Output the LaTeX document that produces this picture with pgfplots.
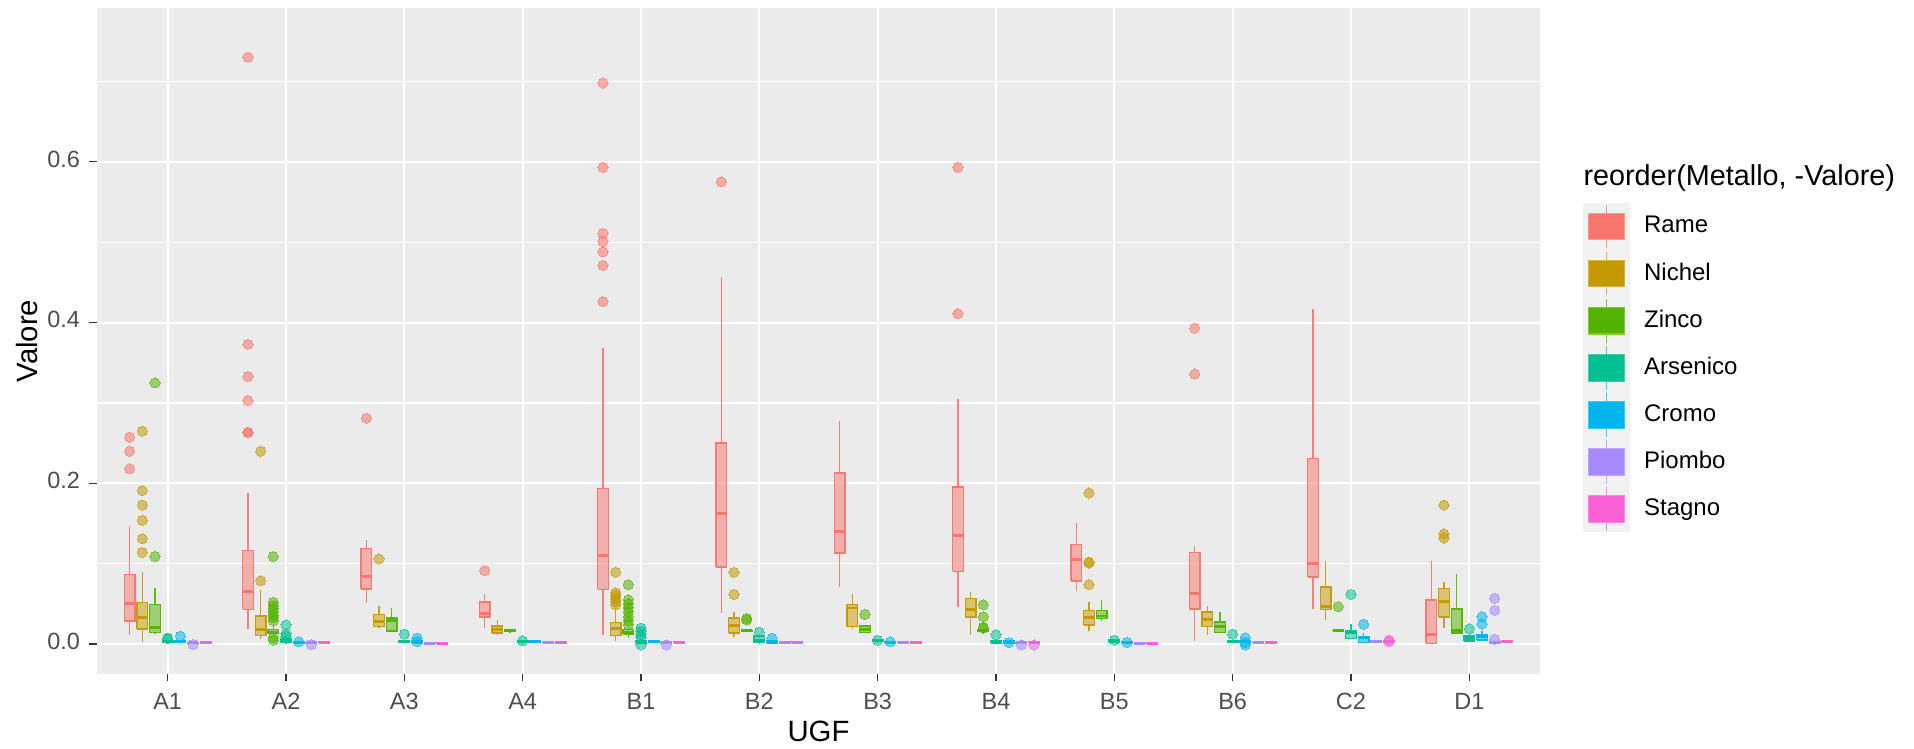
\documentclass[border=0pt]{standalone}
\usepackage{fontspec}
\setmainfont{Liberation Sans}
\usepackage{pgfplots}
\pgfplotsset{compat=1.18}

\definecolor{cRame}{HTML}{F8766D}
\definecolor{cNichel}{HTML}{C49A00}
\definecolor{cZinco}{HTML}{53B400}
\definecolor{cArsenico}{HTML}{00C094}
\definecolor{cCromo}{HTML}{00B6EB}
\definecolor{cPiombo}{HTML}{A58AFF}
\definecolor{cStagno}{HTML}{FB61D7}
\definecolor{panelbg}{HTML}{EBEBEB}
\definecolor{keybg}{HTML}{F2F2F2}
\definecolor{gray30}{HTML}{4D4D4D}
\definecolor{gray20}{HTML}{333333}

\pgfplotsset{
  keyimg/.style={legend image code/.code={
    \fill[keybg] (0pt,-8.625pt) rectangle (17.25pt,8.625pt);
    \draw[#1!75!white, line width=0.6pt] (8.625pt,-8.2pt) -- (8.625pt,8.2pt);
    \filldraw[fill=#1, draw=#1!75!white, line width=0.4pt] (1.875pt,-5pt) rectangle (15.375pt,5pt);
  }},
}

% one dodged box: colour, category, slot (0..6), lower whisker, q1, median, q3, upper whisker, outliers
\newcommand{\ggbox}[9]{%
  \pgfmathsetmacro\ggx{#2-0.32143+#3*0.10714}%
  \pgfmathsetmacro\ggl{\ggx-0.045}%
  \pgfmathsetmacro\ggr{\ggx+0.045}%
  \edef\ggdo{%
    \noexpand\addplot[forget plot, draw=#1, draw opacity=0.95, fill=#1, fill opacity=0.5, line width=0.55pt]
      coordinates {(\ggl,#5) (\ggr,#5) (\ggr,#7) (\ggl,#7) (\ggl,#5)};
    \noexpand\addplot[forget plot, draw=#1, draw opacity=0.9, line width=0.55pt, unbounded coords=jump]
      coordinates {(\ggx,#4) (\ggx,#5) (\ggx,nan) (\ggx,#7) (\ggx,#8)};
    \noexpand\addplot[forget plot, draw=#1, line width=1.1pt]
      coordinates {(\ggl,#6) (\ggr,#6)};
  }\ggdo
  \ggout{#1}{#9}%
}
\newcommand{\ggout}[2]{%
  \if\relax\detokenize{#2}\relax\else
    \edef\ggdo{\noexpand\addplot[forget plot, color=#1, only marks, mark=*, mark size=1.9pt,
      mark options={solid, fill=#1, draw=#1, line width=0pt, opacity=0.55},
      x filter/.expression={\ggx}] coordinates {#2};}\ggdo
  \fi}

\begin{document}
\begin{tikzpicture}
\begin{axis}[
  name=ax,
  scale only axis, width=541.35pt, height=249.6pt,
  xmin=0.4, xmax=12.6, ymin=-0.037, ymax=0.791,
  axis background/.style={fill=panelbg},
  axis line style={draw=none},
  xtick={1,2,3,4,5,6,7,8,9,10,11,12},
  xticklabels={A1,A2,A3,A4,B1,B2,B3,B4,B5,B6,C2,D1},
  ytick={0,0.2,0.4,0.6}, yticklabels={0.0,0.2,0.4,0.6},
  minor ytick={0.1,0.3,0.5,0.7},
  xmajorgrids, ymajorgrids, yminorgrids,
  major grid style={white, line width=0.7pt},
  minor grid style={white, line width=0.45pt},
  tick align=outside, tick pos=left,
  major tick length=2.75pt, minor tick length=0pt,
  tick style={draw=gray20, line width=0.5pt},
  ticklabel style={font=\fontsize{8.8}{10}\selectfont, text=gray30},
  typeset ticklabels with strut,
  xlabel={UGF}, ylabel={Valore},
  every axis x label/.style={at={(rel axis cs:0.5,0)}, anchor=center, yshift=-21.75pt},
  every axis y label/.style={at={(rel axis cs:0,0.5)}, xshift=-26.1pt, rotate=90, anchor=center},
  label style={font=\fontsize{11}{13}\selectfont},
  legend style={at={(rel axis cs:1.0296,0.7075)}, anchor=north west,
    draw=none, fill=none, inner sep=0pt, outer sep=0pt,
    row sep=0pt, column sep=5.25pt,
    font=\fontsize{9}{11}\selectfont, nodes={inner sep=0pt}},
  legend cell align=left,
]
\addlegendimage{keyimg=cRame}\addlegendentry{Rame}
\addlegendimage{keyimg=cNichel}\addlegendentry{Nichel}
\addlegendimage{keyimg=cZinco}\addlegendentry{Zinco}
\addlegendimage{keyimg=cArsenico}\addlegendentry{Arsenico}
\addlegendimage{keyimg=cCromo}\addlegendentry{Cromo}
\addlegendimage{keyimg=cPiombo}\addlegendentry{Piombo}
\addlegendimage{keyimg=cStagno}\addlegendentry{Stagno}

% A1
\ggbox{cRame}{1}{0}{0.011}{0.029}{0.051}{0.0865}{0.147}{(0,0.2575)(0,0.240)(0,0.218)}
\ggbox{cNichel}{1}{1}{0.003}{0.019}{0.033}{0.052}{0.090}{(0,0.265)(0,0.191)(0,0.173)(0,0.154)(0,0.131)(0,0.114)}
\ggbox{cZinco}{1}{2}{0.013}{0.0144}{0.0206}{0.049}{0.070}{(0,0.325)(0,0.109)}
\ggbox{cArsenico}{1}{3}{0.001}{0.002}{0.003}{0.004}{0.005}{(0,0.007)(0,0.0075)}
\ggbox{cCromo}{1}{4}{0.001}{0.002}{0.003}{0.004}{0.005}{(0,0.010)}
\ggbox{cPiombo}{1}{5}{0.001}{0.001}{0.0015}{0.002}{0.002}{(0,-0.0005)}
\ggbox{cStagno}{1}{6}{0.001}{0.0015}{0.002}{0.003}{0.003}{}
% A2
\ggbox{cRame}{2}{0}{0.0185}{0.0433}{0.066}{0.1166}{0.188}{(0,0.730)(0,0.373)(0,0.333)(0,0.303)(0,0.263)(0,0.2635)}
\ggbox{cNichel}{2}{1}{0.006}{0.011}{0.0185}{0.035}{0.067}{(0,0.0787)(0,0.240)}
\ggbox{cZinco}{2}{2}{0.010}{0.013}{0.015}{0.018}{0.024}{(0,0.005)(0,0.008)(0,0.029)(0,0.033)(0,0.036)(0,0.040)(0,0.044)(0,0.048)(0,0.052)(0,0.109)}
\ggbox{cArsenico}{2}{3}{0.0}{0.002}{0.004}{0.007}{0.009}{(0,0.010)(0,0.013)(0,0.024)}
\ggbox{cCromo}{2}{4}{0.001}{0.0015}{0.002}{0.003}{0.004}{(0,0.003)}
\ggbox{cPiombo}{2}{5}{0.001}{0.001}{0.0015}{0.002}{0.002}{(0,-0.0005)}
\ggbox{cStagno}{2}{6}{0.001}{0.0015}{0.002}{0.003}{0.003}{}
% A3
\ggbox{cRame}{3}{0}{0.0507}{0.0688}{0.0845}{0.1187}{0.129}{(0,0.281)}
\ggbox{cNichel}{3}{1}{0.020}{0.0218}{0.0276}{0.037}{0.047}{(0,0.106)}
\ggbox{cZinco}{3}{2}{0.0165}{0.0165}{0.029}{0.0326}{0.045}{}
\ggbox{cArsenico}{3}{3}{0.002}{0.002}{0.003}{0.004}{0.004}{(0,0.0124)}
\ggbox{cCromo}{3}{4}{0.001}{0.001}{0.002}{0.004}{0.005}{(0,0.0074)(0,0.003)}
\ggbox{cPiombo}{3}{5}{0.0008}{0.0008}{0.001}{0.0015}{0.0015}{}
\ggbox{cStagno}{3}{6}{0.0008}{0.0008}{0.001}{0.0015}{0.0015}{}
% A4
\ggbox{cRame}{4}{0}{0.0206}{0.0338}{0.038}{0.0523}{0.0626}{(0,0.0915)}
\ggbox{cNichel}{4}{1}{0.011}{0.0136}{0.018}{0.0227}{0.030}{}
\ggbox{cZinco}{4}{2}{0.0145}{0.0155}{0.0165}{0.0175}{0.018}{}
\ggbox{cArsenico}{4}{3}{0.001}{0.002}{0.003}{0.004}{0.005}{(0,0.004)}
\ggbox{cCromo}{4}{4}{0.002}{0.002}{0.003}{0.004}{0.004}{}
\ggbox{cPiombo}{4}{5}{0.0015}{0.0015}{0.002}{0.0025}{0.0025}{}
\ggbox{cStagno}{4}{6}{0.0015}{0.0015}{0.002}{0.0025}{0.0025}{}
% B1
\ggbox{cRame}{5}{0}{0.0111}{0.068}{0.110}{0.1937}{0.369}{(0,0.698)(0,0.593)(0,0.511)(0,0.501)(0,0.488)(0,0.471)(0,0.426)}
\ggbox{cNichel}{5}{1}{0.004}{0.011}{0.019}{0.0268}{0.045}{(0,0.049)(0,0.053)(0,0.057)(0,0.061)(0,0.064)(0,0.0894)}
\ggbox{cZinco}{5}{2}{0.008}{0.012}{0.015}{0.018}{0.020}{(0,0.024)(0,0.029)(0,0.034)(0,0.040)(0,0.045)(0,0.050)(0,0.055)(0,0.074)}
\ggbox{cArsenico}{5}{3}{0.0}{0.001}{0.002}{0.004}{0.006}{(0,0.008)(0,0.012)(0,0.016)(0,0.020)(0,-0.001)}
\ggbox{cCromo}{5}{4}{0.002}{0.002}{0.003}{0.004}{0.004}{}
\ggbox{cPiombo}{5}{5}{0.001}{0.001}{0.0015}{0.002}{0.002}{(0,-0.001)}
\ggbox{cStagno}{5}{6}{0.001}{0.0015}{0.002}{0.003}{0.003}{}
% B2
\ggbox{cRame}{6}{0}{0.039}{0.096}{0.162}{0.2505}{0.4565}{(0,0.575)}
\ggbox{cNichel}{6}{1}{0.0095}{0.0136}{0.0235}{0.0326}{0.040}{(0,0.0618)(0,0.0894)}
\ggbox{cZinco}{6}{2}{0.015}{0.016}{0.0165}{0.017}{0.018}{(0,0.030)(0,0.032)}
\ggbox{cArsenico}{6}{3}{0.0}{0.002}{0.004}{0.010}{0.012}{(0,0.015)}
\ggbox{cCromo}{6}{4}{0.001}{0.001}{0.002}{0.004}{0.005}{(0,0.0074)}
\ggbox{cPiombo}{6}{5}{0.001}{0.0015}{0.002}{0.003}{0.003}{}
\ggbox{cStagno}{6}{6}{0.001}{0.0015}{0.002}{0.003}{0.003}{}
% B3
\ggbox{cRame}{7}{0}{0.0709}{0.1133}{0.140}{0.213}{0.278}{}
\ggbox{cNichel}{7}{1}{0.019}{0.0218}{0.045}{0.049}{0.062}{}
\ggbox{cZinco}{7}{2}{0.0144}{0.0144}{0.018}{0.0227}{0.0227}{(0,0.037)}
\ggbox{cArsenico}{7}{3}{0.002}{0.003}{0.004}{0.006}{0.006}{(0,0.005)}
\ggbox{cCromo}{7}{4}{0.001}{0.001}{0.002}{0.003}{0.003}{(0,0.003)}
\ggbox{cPiombo}{7}{5}{0.001}{0.0015}{0.002}{0.003}{0.003}{}
\ggbox{cStagno}{7}{6}{0.001}{0.0015}{0.002}{0.003}{0.003}{}
% B4
\ggbox{cRame}{8}{0}{0.046}{0.0906}{0.135}{0.1957}{0.305}{(0,0.411)(0,0.593)}
\ggbox{cNichel}{8}{1}{0.011}{0.0338}{0.0433}{0.0569}{0.0647}{}
\ggbox{cZinco}{8}{2}{0.014}{0.0155}{0.0165}{0.018}{0.019}{(0,0.020)(0,0.021)(0,0.034)(0,0.049)}
\ggbox{cArsenico}{8}{3}{0.0}{0.001}{0.002}{0.004}{0.005}{(0,0.0116)}
\ggbox{cCromo}{8}{4}{0.001}{0.001}{0.002}{0.004}{0.004}{(0,0.002)}
\ggbox{cPiombo}{8}{5}{0.001}{0.001}{0.0015}{0.002}{0.002}{(0,-0.001)}
\ggbox{cStagno}{8}{6}{0.001}{0.0015}{0.002}{0.003}{0.003}{(0,-0.001)}
% B5
\ggbox{cRame}{9}{0}{0.066}{0.0783}{0.105}{0.124}{0.151}{}
\ggbox{cNichel}{9}{1}{0.0165}{0.0239}{0.033}{0.042}{0.052}{(0,0.074)(0,0.101)(0,0.102)(0,0.188)}
\ggbox{cZinco}{9}{2}{0.0288}{0.0317}{0.035}{0.042}{0.0548}{}
\ggbox{cArsenico}{9}{3}{0.002}{0.002}{0.003}{0.005}{0.006}{(0,0.005)}
\ggbox{cCromo}{9}{4}{0.001}{0.001}{0.002}{0.003}{0.003}{(0,0.002)}
\ggbox{cPiombo}{9}{5}{0.0008}{0.0008}{0.001}{0.0015}{0.0015}{}
\ggbox{cStagno}{9}{6}{0.0008}{0.0008}{0.001}{0.0015}{0.0015}{}
% B6
\ggbox{cRame}{10}{0}{0.004}{0.044}{0.0626}{0.114}{0.1215}{(0,0.336)(0,0.393)}
\ggbox{cNichel}{10}{1}{0.011}{0.0218}{0.031}{0.040}{0.047}{}
\ggbox{cZinco}{10}{2}{0.0144}{0.0144}{0.022}{0.0276}{0.040}{}
\ggbox{cArsenico}{10}{3}{0.002}{0.002}{0.003}{0.004}{0.004}{(0,0.0124)}
\ggbox{cCromo}{10}{4}{0.002}{0.002}{0.003}{0.004}{0.004}{(0,0.002)(0,0.008)(0,-0.001)}
\ggbox{cPiombo}{10}{5}{0.001}{0.0015}{0.002}{0.003}{0.003}{}
\ggbox{cStagno}{10}{6}{0.001}{0.0015}{0.002}{0.003}{0.003}{}
% C2
\ggbox{cRame}{11}{0}{0.0433}{0.0836}{0.100}{0.2307}{0.4167}{}
\ggbox{cNichel}{11}{1}{0.030}{0.0433}{0.0474}{0.0713}{0.104}{}
\ggbox{cZinco}{11}{2}{0.0155}{0.016}{0.0165}{0.017}{0.0175}{(0,0.0466)}
\ggbox{cArsenico}{11}{3}{0.007}{0.007}{0.0144}{0.0165}{0.0247}{(0,0.0618)}
\ggbox{cCromo}{11}{4}{0.002}{0.002}{0.008}{0.0095}{0.0144}{(0,0.0247)}
\ggbox{cPiombo}{11}{5}{0.002}{0.002}{0.003}{0.004}{0.004}{}
\ggbox{cStagno}{11}{6}{0.002}{0.002}{0.003}{0.004}{0.004}{(0,0.005)(0,0.003)}
% D1
\ggbox{cRame}{12}{0}{0.0}{0.001}{0.0124}{0.0548}{0.104}{}
\ggbox{cNichel}{12}{1}{0.0206}{0.034}{0.0536}{0.069}{0.0775}{(0,0.132)(0,0.137)(0,0.173)}
\ggbox{cZinco}{12}{2}{0.0136}{0.0136}{0.0165}{0.044}{0.0874}{}
\ggbox{cArsenico}{12}{3}{0.004}{0.004}{0.007}{0.010}{0.012}{(0,0.019)}
\ggbox{cCromo}{12}{4}{0.005}{0.0053}{0.009}{0.0116}{0.016}{(0,0.025)(0,0.034)}
\ggbox{cPiombo}{12}{5}{0.001}{0.001}{0.002}{0.003}{0.003}{(0,0.006)(0,0.042)(0,0.057)}
\ggbox{cStagno}{12}{6}{0.002}{0.002}{0.003}{0.004}{0.004}{}
\end{axis}
\node[anchor=west, font=\fontsize{10.8}{13}\selectfont, inner sep=0pt]
  at ([shift={(16pt,-63.6pt)}]ax.north east) {reorder(Metallo, -Valore)};
\pgfresetboundingbox
\path[use as bounding box] ([shift={(-36.26pt,-28.13pt)}]ax.south west)
  rectangle ([shift={(140.14pt,3.11pt)}]ax.north east);
\end{tikzpicture}
\end{document}
